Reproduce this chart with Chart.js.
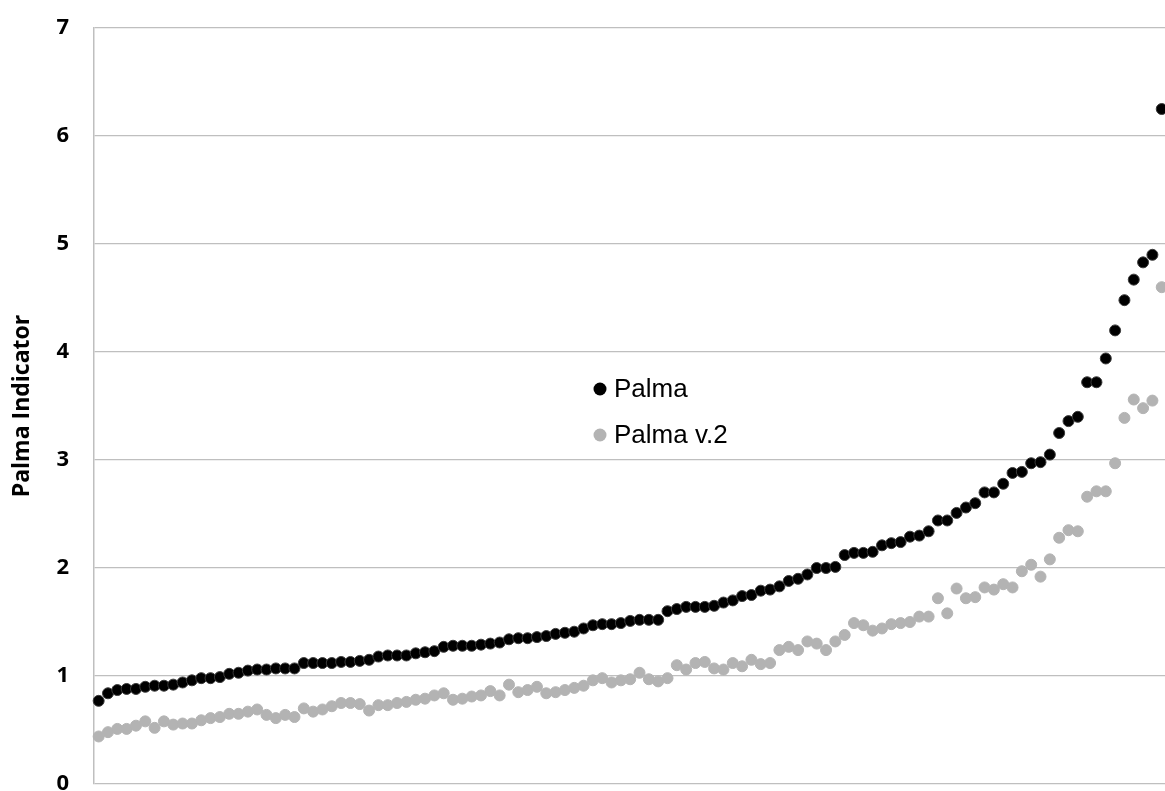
<!DOCTYPE html>
<html>
<head>
<meta charset="utf-8">
<script src="https://cdn.jsdelivr.net/npm/chart.js@4.4.1/dist/chart.umd.min.js"></script>
<style>
  html, body { margin: 0; padding: 0; overflow: hidden; background: #fff; }
  #wrap { position: absolute; left: 0; top: 0; width: 1170px; height: 796px; }
</style>
</head>
<body>
<div id="wrap"><canvas id="chart"></canvas></div>
<script>
// Palma indicator per country, sorted
const palma = [
    0.77, 0.84, 0.87, 0.88, 0.88, 0.90, 0.91, 0.91, 0.92, 0.94,
    0.96, 0.98, 0.98, 0.99, 1.02, 1.03, 1.05, 1.06, 1.06, 1.07,
    1.07, 1.07, 1.12, 1.12, 1.12, 1.12, 1.13, 1.13, 1.14, 1.15,
    1.18, 1.19, 1.19, 1.19, 1.21, 1.22, 1.23, 1.27, 1.28, 1.28,
    1.28, 1.29, 1.30, 1.31, 1.34, 1.35, 1.35, 1.36, 1.37, 1.39,
    1.40, 1.41, 1.44, 1.47, 1.48, 1.48, 1.49, 1.51, 1.52, 1.52,
    1.52, 1.60, 1.62, 1.64, 1.64, 1.64, 1.65, 1.68, 1.70, 1.74,
    1.75, 1.79, 1.80, 1.83, 1.88, 1.90, 1.94, 2.00, 2.00, 2.01,
    2.12, 2.14, 2.14, 2.15, 2.21, 2.23, 2.24, 2.29, 2.30, 2.34,
    2.44, 2.44, 2.51, 2.56, 2.60, 2.70, 2.70, 2.78, 2.88, 2.89,
    2.97, 2.98, 3.05, 3.25, 3.36, 3.40, 3.72, 3.72, 3.94, 4.20,
    4.48, 4.67, 4.83, 4.90, 6.25
];

const palmaV2 = [
    0.44, 0.48, 0.51, 0.51, 0.54, 0.58, 0.52, 0.58, 0.55, 0.56,
    0.56, 0.59, 0.61, 0.62, 0.65, 0.65, 0.67, 0.69, 0.64, 0.61,
    0.64, 0.62, 0.70, 0.67, 0.69, 0.72, 0.75, 0.75, 0.74, 0.68,
    0.73, 0.73, 0.75, 0.76, 0.78, 0.79, 0.82, 0.84, 0.78, 0.79,
    0.81, 0.82, 0.86, 0.82, 0.92, 0.85, 0.87, 0.90, 0.84, 0.85,
    0.87, 0.89, 0.91, 0.96, 0.98, 0.94, 0.96, 0.97, 1.03, 0.97,
    0.95, 0.98, 1.10, 1.06, 1.12, 1.13, 1.07, 1.06, 1.12, 1.09,
    1.15, 1.11, 1.12, 1.24, 1.27, 1.24, 1.32, 1.30, 1.24, 1.32,
    1.38, 1.49, 1.47, 1.42, 1.44, 1.48, 1.49, 1.50, 1.55, 1.55,
    1.72, 1.58, 1.81, 1.72, 1.73, 1.82, 1.80, 1.85, 1.82, 1.97,
    2.03, 1.92, 2.08, 2.28, 2.35, 2.34, 2.66, 2.71, 2.71, 2.97,
    3.39, 3.56, 3.48, 3.55, 4.60
];

const seriesNames = ['Palma', 'Palma v.2'];
const yMin = 0;
const yMax = 7;

// x axis has no labels: one hidden category per country
const countryRanks = palma.map((v, i) => String(i + 1));

// legend sits inside the plot, roughly in the middle
const centerLegend = {
    id: 'centerLegend',
    afterDraw(chart) {
        const { ctx, chartArea } = chart;
        const x = chartArea.left + 506;
        let y = chartArea.top + 361;
        ctx.save();
        ctx.font = '26px "Liberation Sans", Arial, sans-serif';
        ctx.textBaseline = 'middle';
        ctx.textAlign = 'left';
        chart.data.datasets.forEach(ds => {
            ctx.beginPath();
            ctx.arc(x, y, 6.5, 0, Math.PI * 2);
            ctx.fillStyle = ds.backgroundColor;
            ctx.fill();
            ctx.fillStyle = '#000';
            ctx.fillText(ds.label, x + 14, y + 1);
            y += 46;
        });
        ctx.restore();
    }
};

const ctx = document.getElementById('chart').getContext('2d');
new Chart(ctx, {
    type: 'line',
    data: {
        labels: countryRanks,
        datasets: [{
            label: seriesNames[0],
            data: palma,
            showLine: false,
            backgroundColor: '#000000',
            borderColor: '#3a3a3a',
            pointBackgroundColor: '#000000',
            pointBorderColor: '#3a3a3a',
            pointBorderWidth: 1,
            pointRadius: 5.5,
            clip: false
        }, {
            label: seriesNames[1],
            data: palmaV2,
            showLine: false,
            backgroundColor: '#b3b3b3',
            borderColor: '#b3b3b3',
            pointBackgroundColor: '#b3b3b3',
            pointBorderColor: '#b3b3b3',
            pointBorderWidth: 1,
            pointRadius: 5.5,
            clip: false
        }]
    },
    options: {
        responsive: true,
        maintainAspectRatio: false,
        animation: false,
        layout: {
            autoPadding: false,
            padding: { left: 0, top: 28, right: 3.6, bottom: 12 }
        },
        plugins: {
            legend: { display: false },
            tooltip: { enabled: false }
        },
        scales: {
            x: {
                display: false,
                offset: true,
                afterFit(scale) {
                    scale.paddingLeft = 0;
                    scale.paddingRight = 0;
                }
            },
            y: {
                min: yMin,
                max: yMax,
                afterFit(scale) {
                    // fixed axis width, and no extra room above/below for the labels
                    scale.width = 94;
                    scale.paddingTop = 0;
                    scale.paddingBottom = 0;
                },
                border: {
                    color: '#bfbfbf',
                    width: 1.5
                },
                grid: {
                    color: '#bfbfbf',
                    lineWidth: 1.2,
                    drawTicks: false
                },
                ticks: {
                    stepSize: 1,
                    padding: 25,
                    color: '#000',
                    font: { family: '"Open Sans"', size: 22, weight: 'bold' }
                },
                title: {
                    display: true,
                    text: 'Palma Indicator',
                    color: '#000',
                    padding: { top: 9, bottom: 0 },
                    font: { family: '"Open Sans"', size: 23, weight: 'bold' }
                }
            }
        }
    },
    plugins: [centerLegend]
});
</script>
</body>
</html>
